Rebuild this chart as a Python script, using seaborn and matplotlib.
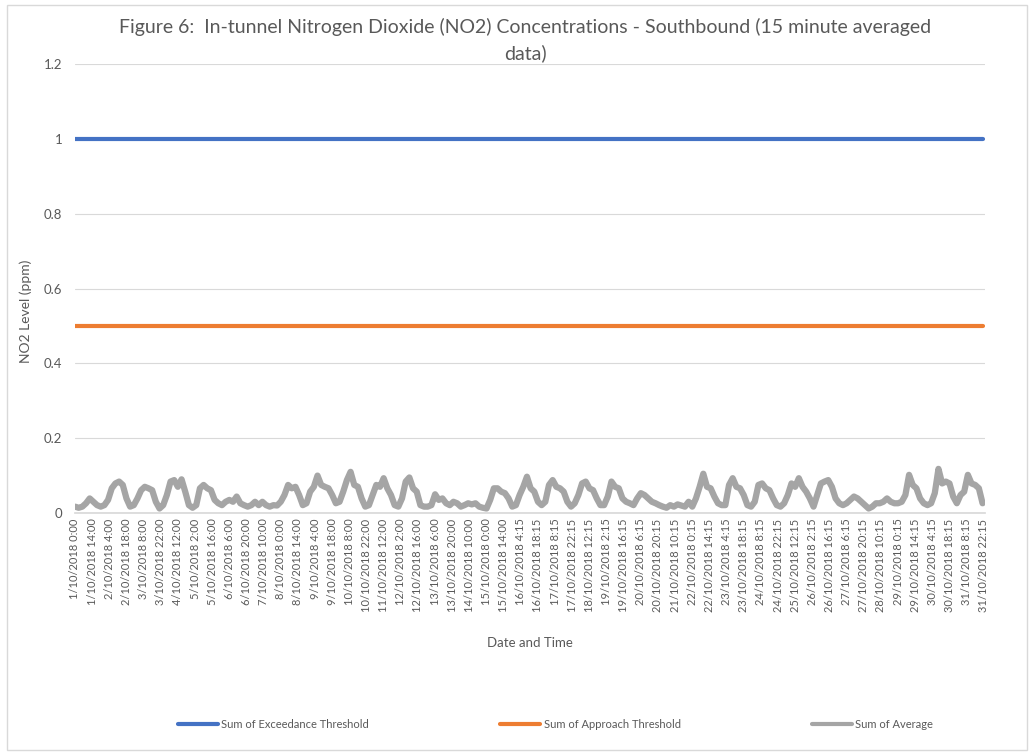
import numpy as np
import pandas as pd
import matplotlib
matplotlib.use("Agg")
import matplotlib.pyplot as plt
import seaborn as sns
from matplotlib.lines import Line2D
from matplotlib.patches import Rectangle

# x-axis category labels (one every 14 hours of 15-minute data)
tick_labels = [
    "1/10/2018 0:00", "1/10/2018 14:00", "2/10/2018 4:00", "2/10/2018 18:00",
    "3/10/2018 8:00", "3/10/2018 22:00", "4/10/2018 12:00", "5/10/2018 2:00",
    "5/10/2018 16:00", "6/10/2018 6:00", "6/10/2018 20:00", "7/10/2018 10:00",
    "8/10/2018 0:00", "8/10/2018 14:00", "9/10/2018 4:00", "9/10/2018 18:00",
    "10/10/2018 8:00", "10/10/2018 22:00", "11/10/2018 12:00", "12/10/2018 2:00",
    "12/10/2018 16:00", "13/10/2018 6:00", "13/10/2018 20:00", "14/10/2018 10:00",
    "15/10/2018 0:00", "15/10/2018 14:00", "16/10/2018 4:15", "16/10/2018 18:15",
    "17/10/2018 8:15", "17/10/2018 22:15", "18/10/2018 12:15", "19/10/2018 2:15",
    "19/10/2018 16:15", "20/10/2018 6:15", "20/10/2018 20:15", "21/10/2018 10:15",
    "22/10/2018 0:15", "22/10/2018 14:15", "23/10/2018 4:15", "23/10/2018 18:15",
    "24/10/2018 8:15", "24/10/2018 22:15", "25/10/2018 12:15", "26/10/2018 2:15",
    "26/10/2018 16:15", "27/10/2018 6:15", "27/10/2018 20:15", "28/10/2018 10:15",
    "29/10/2018 0:15", "29/10/2018 14:15", "30/10/2018 4:15", "30/10/2018 18:15",
    "31/10/2018 8:15", "31/10/2018 22:15",
]

exceedance_threshold = 1.0
approach_threshold = 0.5

# average NO2 (ppm), every 3 hours, one row per day
avg_no2 = [
    0.017, 0.014, 0.017, 0.026, 0.039, 0.030, 0.021, 0.017,  # 1 Oct
    0.021, 0.035, 0.066, 0.079, 0.084, 0.075, 0.039, 0.017,
    0.021, 0.039, 0.061, 0.070, 0.066, 0.061, 0.030, 0.012,
    0.021, 0.048, 0.084, 0.088, 0.070, 0.090, 0.057, 0.021,
    0.014, 0.021, 0.066, 0.075, 0.066, 0.061, 0.035, 0.026,  # 5 Oct
    0.021, 0.030, 0.035, 0.030, 0.044, 0.026, 0.021, 0.017,
    0.021, 0.030, 0.021, 0.030, 0.021, 0.017, 0.021, 0.020,
    0.030, 0.048, 0.075, 0.066, 0.070, 0.048, 0.021, 0.026,
    0.057, 0.070, 0.100, 0.075, 0.070, 0.066, 0.048, 0.026,
    0.030, 0.057, 0.088, 0.110, 0.075, 0.070, 0.039, 0.017,  # 10 Oct
    0.021, 0.048, 0.075, 0.070, 0.093, 0.066, 0.048, 0.021,
    0.017, 0.039, 0.084, 0.095, 0.066, 0.057, 0.021, 0.017,
    0.017, 0.021, 0.050, 0.035, 0.039, 0.026, 0.021, 0.030,
    0.026, 0.017, 0.021, 0.026, 0.023, 0.026, 0.017, 0.014,
    0.012, 0.035, 0.066, 0.066, 0.057, 0.053, 0.039, 0.017,  # 15 Oct
    0.021, 0.048, 0.070, 0.097, 0.066, 0.057, 0.030, 0.021,
    0.030, 0.075, 0.088, 0.070, 0.066, 0.057, 0.030, 0.017,
    0.026, 0.048, 0.079, 0.084, 0.066, 0.061, 0.039, 0.021,
    0.021, 0.044, 0.084, 0.070, 0.066, 0.039, 0.030, 0.026,
    0.021, 0.039, 0.053, 0.048, 0.039, 0.030, 0.026, 0.021,  # 20 Oct
    0.017, 0.014, 0.021, 0.017, 0.023, 0.020, 0.017, 0.030,
    0.017, 0.039, 0.070, 0.105, 0.070, 0.066, 0.044, 0.026,
    0.021, 0.021, 0.075, 0.093, 0.070, 0.066, 0.048, 0.021,
    0.017, 0.030, 0.075, 0.079, 0.066, 0.061, 0.039, 0.021,
    0.017, 0.026, 0.048, 0.079, 0.070, 0.093, 0.070, 0.057,  # 25 Oct
    0.039, 0.017, 0.048, 0.079, 0.084, 0.088, 0.070, 0.039,
    0.026, 0.021, 0.026, 0.035, 0.044, 0.039, 0.030, 0.021,
    0.012, 0.017, 0.026, 0.026, 0.030, 0.039, 0.030, 0.026,
    0.026, 0.030, 0.048, 0.102, 0.075, 0.066, 0.039, 0.026,
    0.021, 0.026, 0.053, 0.118, 0.079, 0.084, 0.079, 0.044,  # 30 Oct
    0.026, 0.048, 0.057, 0.102, 0.079, 0.075, 0.066, 0.026,
]

hours = np.arange(len(avg_no2)) * 3
df = pd.DataFrame({
    "hour": hours,
    "Sum of Exceedance Threshold": exceedance_threshold,
    "Sum of Approach Threshold": approach_threshold,
})
thresholds = df.melt(id_vars="hour", var_name="series", value_name="ppm")
avg_df = pd.DataFrame({"hour": hours, "ppm": avg_no2})

sns.set_theme(style="white")
plt.rcParams["font.family"] = ["Lato", "DejaVu Sans"]
text_col = "#595959"
colors = {"Sum of Exceedance Threshold": "#4472C4",
          "Sum of Approach Threshold": "#ED7D31",
          "Sum of Average": "#A5A5A5"}

fig = plt.figure(figsize=(10.34, 7.55), dpi=100)
ax = fig.add_axes([75 / 1034, 1 - 513 / 755, 910 / 1034, 449 / 755])

sns.lineplot(data=thresholds, x="hour", y="ppm", hue="series", palette=colors,
             linewidth=3, ax=ax, legend=False)
sns.lineplot(data=avg_df, x="hour", y="ppm", color=colors["Sum of Average"],
             linewidth=4.5, ax=ax)

ax.set_xlim(0, 743)
ax.set_ylim(0, 1.2)
ax.set_yticks([0, 0.2, 0.4, 0.6, 0.8, 1.0, 1.2],
              ["0", "0.2", "0.4", "0.6", "0.8", "1", "1.2"])
ax.set_xticks(np.arange(len(tick_labels)) * 14, tick_labels, rotation=90)
ax.tick_params(axis="y", length=0, pad=9, labelsize=9.5, labelcolor=text_col)
ax.tick_params(axis="x", length=0, pad=4, labelsize=8, labelcolor=text_col)
ax.grid(axis="y", color="#D9D9D9", linewidth=0.8)
for s in ["top", "right", "left"]:
    ax.spines[s].set_visible(False)
ax.spines["bottom"].set_color("#D9D9D9")

ax.set_ylabel("NO2 Level (ppm)", fontsize=10, color=text_col)
ax.yaxis.set_label_coords(-0.047, 0.45)
ax.set_xlabel("Date and Time", fontsize=9.5, color=text_col)
ax.xaxis.set_label_coords(0.5, -0.276)

fig.text(0.508, 0.947,
         "Figure 6:  In-tunnel Nitrogen Dioxide (NO2) Concentrations - Southbound (15 minute averaged\ndata)",
         ha="center", va="center", fontsize=14, color=text_col, linespacing=1.5)

handles = [Line2D([], [], color=c, linewidth=3) for c in colors.values()]
fig.legend(handles, list(colors.keys()), loc="center", ncol=3, mode="expand",
           bbox_to_anchor=(178 / 1034, 1 - 734 / 755, 755 / 1034, 20 / 755),
           frameon=False, fontsize=8, handlelength=3.6, handletextpad=0.3,
           borderpad=0, borderaxespad=0, labelcolor=text_col)

fig.patches.append(Rectangle((7 / 1034, 5 / 755), 1020 / 1034, 745 / 755,
                             transform=fig.transFigure, fill=False,
                             edgecolor="#D9D9D9", linewidth=1))

fig.savefig("out.png", dpi=100)
